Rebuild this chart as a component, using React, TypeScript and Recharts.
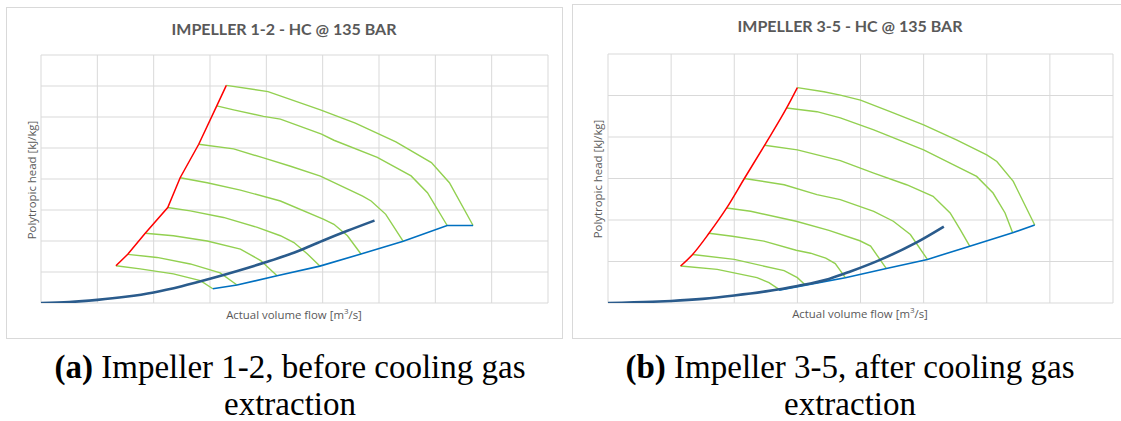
import React from "react";
import { LineChart, Line, XAxis, YAxis, CartesianGrid } from "recharts";

type Pt = { x: number; y: number };
const P = (arr: number[][]): Pt[] => arr.map(([x, y]) => ({ x, y }));

// ---------- Chart (a): Impeller 1-2 ----------
const aTitle = "IMPELLER 1-2 - HC @ 135 BAR";
const aXTicks = [0, 1, 2, 3, 4, 5, 6, 7, 8, 9];
const aYTicks = [0, 1, 2, 3, 4, 5, 6, 7, 8];
const aSurge = P([[1.33, 1.2], [1.54, 1.57], [1.85, 2.25], [2.25, 3.08], [2.47, 4.04], [2.8, 5.12], [3.12, 6.36], [3.29, 7.02]]);
const aSpeed1 = P([[3.29, 7.02], [4.03, 6.82], [4.96, 6.23], [5.58, 5.8], [6.3, 5.2], [6.93, 4.53], [7.25, 3.88], [7.67, 2.5]]);
const aSpeed2 = P([[3.12, 6.36], [3.42, 6.23], [3.95, 6.02], [4.25, 5.93], [4.98, 5.45], [5.2, 5.25], [5.97, 4.7], [6.57, 4.1], [6.86, 3.56], [7.21, 2.5]]);
const aSpeed3 = P([[2.8, 5.12], [3.42, 4.97], [3.95, 4.68], [4.43, 4.41], [4.96, 4.09], [5.71, 3.45], [5.86, 3.29], [6.12, 2.86], [6.43, 1.99]]);
const aSpeed4 = P([[2.47, 4.04], [2.95, 3.88], [3.54, 3.64], [4.25, 3.29], [5.02, 2.7], [5.2, 2.54], [5.44, 2.17], [5.68, 1.58]]);
const aSpeed5 = P([[2.25, 3.08], [2.65, 2.97], [3.24, 2.76], [3.84, 2.44], [4.25, 2.17], [4.49, 1.95], [4.73, 1.58], [4.95, 1.19]]);
const aSpeed6 = P([[1.85, 2.25], [2.35, 2.17], [2.95, 2.0], [3.54, 1.74], [3.9, 1.37], [4.19, 0.88]]);
const aSpeed7 = P([[1.54, 1.57], [2.06, 1.47], [2.65, 1.26], [3.18, 0.97], [3.48, 0.58]]);
const aSpeed8 = P([[1.33, 1.2], [1.76, 1.1], [2.35, 0.94], [2.83, 0.72], [3.05, 0.46]]);
const aChoke = P([[3.05, 0.46], [3.48, 0.58], [4.19, 0.88], [4.95, 1.19], [5.68, 1.58], [6.43, 1.99], [7.21, 2.5], [7.67, 2.5]]);
const aOperating = P([[0, 0], [0.5, 0.03], [1, 0.1], [1.5, 0.2], [2, 0.34], [2.5, 0.54], [3, 0.78], [3.5, 1.04], [4, 1.32], [4.5, 1.63], [5, 2.01], [5.44, 2.33], [5.92, 2.66]]);
const aSpeeds = [aSpeed1, aSpeed2, aSpeed3, aSpeed4, aSpeed5, aSpeed6, aSpeed7, aSpeed8];

// ---------- Chart (b): Impeller 3-5 ----------
const bTitle = "IMPELLER 3-5 - HC @ 135 BAR";
const bXTicks = [0, 1, 2, 3, 4, 5, 6, 7, 8];
const bYTicks = [0, 1, 2, 3, 4, 5, 6];
const bSurge = P([[1.15, 0.89], [1.34, 1.17], [1.6, 1.68], [1.88, 2.29], [2.16, 3.0], [2.48, 3.8], [2.83, 4.7], [3.0, 5.19]]);
const bSpeed1 = P([[3.0, 5.19], [3.42, 5.09], [3.68, 5.01], [4.0, 4.89], [4.47, 4.61], [5.0, 4.29], [5.52, 3.93], [6.0, 3.57], [6.16, 3.41], [6.42, 2.93], [6.76, 1.88]]);
const bSpeed2 = P([[2.83, 4.7], [3.31, 4.61], [3.68, 4.46], [4.21, 4.17], [5.0, 3.69], [5.42, 3.37], [5.84, 3.05], [6.1, 2.65], [6.29, 2.17], [6.41, 1.69]]);
const bSpeed3 = P([[2.48, 3.8], [3.0, 3.69], [3.68, 3.43], [4.21, 3.13], [4.73, 2.85], [5.15, 2.57], [5.42, 2.17], [5.58, 1.77], [5.73, 1.37]]);
const bSpeed4 = P([[2.16, 3.0], [2.79, 2.85], [3.31, 2.61], [3.68, 2.49], [4.21, 2.21], [4.52, 1.97], [4.79, 1.65], [5.06, 1.05]]);
const bSpeed5 = P([[1.88, 2.29], [2.26, 2.21], [2.98, 1.97], [3.5, 1.75], [3.99, 1.5], [4.16, 1.37], [4.41, 0.83]]);
const bSpeed6 = P([[1.6, 1.68], [1.97, 1.61], [2.47, 1.49], [2.98, 1.27], [3.21, 1.2], [3.45, 1.08], [3.6, 0.95], [3.76, 0.61]]);
const bSpeed7 = P([[1.34, 1.17], [2.0, 1.05], [2.79, 0.78], [3.0, 0.61], [3.13, 0.43]]);
const bSpeed8 = P([[1.15, 0.89], [1.73, 0.81], [2.36, 0.61], [2.55, 0.49], [2.71, 0.33]]);
const bChoke = P([[2.71, 0.31], [3.13, 0.43], [3.76, 0.61], [4.41, 0.83], [5.06, 1.05], [5.73, 1.37], [6.41, 1.69], [6.76, 1.88]]);
const bOperating = P([[0, 0], [0.7, 0.03], [1, 0.05], [1.5, 0.1], [2, 0.18], [2.5, 0.28], [3, 0.41], [3.5, 0.58], [3.84, 0.76], [4.31, 1.04], [4.89, 1.46], [5.32, 1.84]]);
const bSpeeds = [bSpeed1, bSpeed2, bSpeed3, bSpeed4, bSpeed5, bSpeed6, bSpeed7, bSpeed8];

const yLabel = "Polytropic head [kJ/kg]";
const xLabelMain = "Actual volume flow [m";
const xLabelEnd = "/s]";
const captionA1 = "Impeller 1-2, before cooling gas";
const captionB1 = "Impeller 3-5, after cooling gas";
const caption2 = "extraction";

const GRID = "#d9d9d9";
const TXT = "#595959";
const RED = "#ff0000";
const GREEN = "#92d050";
const BLUE = "#0070c0";
const NAVY = "#2a5b8c";

const noTick = () => <g />;

type ChartProps = {
  left: number; top: number; width: number; height: number;
  xMax: number; yMax: number; xTicks: number[]; yTicks: number[];
  surge: Pt[]; speeds: Pt[][]; choke: Pt[]; operating: Pt[]; smoothSurge: boolean;
};

function Map({ left, top, width, height, xMax, yMax, xTicks, yTicks, surge, speeds, choke, operating, smoothSurge }: ChartProps) {
  return (
    <div style={{ position: "absolute", left, top }}>
      <LineChart width={width} height={height} margin={{ top: 5, right: 5, bottom: 5, left: 5 }}>
        <CartesianGrid stroke={GRID} strokeWidth={1} />
        <XAxis type="number" dataKey="x" domain={[0, xMax]} ticks={xTicks} interval={0} tick={noTick} tickLine={false} axisLine={false} height={1} allowDataOverflow />
        <YAxis type="number" dataKey="y" domain={[0, yMax]} ticks={yTicks} interval={0} tick={noTick} tickLine={false} axisLine={false} width={1} allowDataOverflow />
        {speeds.map((d, i) => (
          <Line key={"s" + i} data={d} dataKey="y" type="linear" stroke={GREEN} strokeWidth={1.4} dot={false} activeDot={false} isAnimationActive={false} />
        ))}
        <Line data={choke} dataKey="y" type="linear" stroke={BLUE} strokeWidth={1.6} dot={false} activeDot={false} isAnimationActive={false} />
        <Line data={operating} dataKey="y" type="monotone" stroke={NAVY} strokeWidth={2.6} dot={false} activeDot={false} isAnimationActive={false} />
        <Line data={surge} dataKey="y" type={smoothSurge ? "monotone" : "linear"} stroke={RED} strokeWidth={1.5} dot={false} activeDot={false} isAnimationActive={false} />
      </LineChart>
    </div>
  );
}

const abs = (s: React.CSSProperties): React.CSSProperties => ({ position: "absolute", ...s });
const labelFont = "'Open Sans', 'DejaVu Sans', sans-serif";

function Panel(props: { frame: React.CSSProperties; title: string; titleX: number; titleY: number; cx: number; cy: number; yLabX: number; xLabY: number }) {
  const { frame, title, titleX, titleY, cx, cy, yLabX, xLabY } = props;
  return (
    <>
      <div style={abs({ ...frame, border: `1px solid ${GRID}`, boxSizing: "border-box" })} />
      <div style={abs({ left: titleX - 200, top: titleY - 10, width: 400, textAlign: "center", fontFamily: "Lato, 'Open Sans', sans-serif", fontWeight: 700, fontSize: 16, lineHeight: "20px", color: TXT, whiteSpace: "nowrap" })}>{title}</div>
      <div style={abs({ left: yLabX - 100, top: cy - 8, width: 200, height: 16, textAlign: "center", fontFamily: labelFont, fontSize: 11.4, lineHeight: "16px", color: TXT, transform: "rotate(-90deg)", whiteSpace: "nowrap" })}>{yLabel}</div>
      <div style={abs({ left: cx - 100, top: xLabY - 8, width: 200, textAlign: "center", fontFamily: labelFont, fontSize: 11.4, lineHeight: "16px", color: TXT, whiteSpace: "nowrap" })}>
        {xLabelMain}<sup style={{ fontSize: 8, lineHeight: 0 }}>3</sup>{xLabelEnd}
      </div>
    </>
  );
}

export default function App() {
  const capStyle: React.CSSProperties = { fontFamily: "'Liberation Serif', 'DejaVu Serif', serif", fontSize: 33, lineHeight: "37px", color: "#000", textAlign: "center", whiteSpace: "nowrap" };
  return (
    <div style={{ position: "absolute", left: 0, top: 0, width: 1121, height: 421, overflow: "hidden", background: "#fff" }}>
      <Panel frame={{ left: 6, top: 7, width: 557, height: 332 }} title={aTitle} titleX={284} titleY={29} cx={294} cy={180} yLabX={31.5} xLabY={315} />
      <Panel frame={{ left: 572, top: 4, width: 560, height: 335 }} title={bTitle} titleX={850} titleY={26} cx={860} cy={179} yLabX={597.5} xLabY={314} />
      <Map left={35} top={50} width={518} height={259} xMax={9} yMax={8} xTicks={aXTicks} yTicks={aYTicks}
        surge={aSurge} speeds={aSpeeds} choke={aChoke} operating={aOperating} smoothSurge={false} />
      <Map left={602} top={49} width={516} height={260} xMax={8} yMax={6} xTicks={bXTicks} yTicks={bYTicks}
        surge={bSurge} speeds={bSpeeds} choke={bChoke} operating={bOperating} smoothSurge={true} />
      <div style={abs({ left: 20, top: 349, width: 540, ...capStyle })}><b>(a)</b> {captionA1}</div>
      <div style={abs({ left: 20, top: 386, width: 540, ...capStyle })}>{caption2}</div>
      <div style={abs({ left: 580, top: 349, width: 540, ...capStyle })}><b>(b)</b> {captionB1}</div>
      <div style={abs({ left: 580, top: 386, width: 540, ...capStyle })}>{caption2}</div>
    </div>
  );
}
